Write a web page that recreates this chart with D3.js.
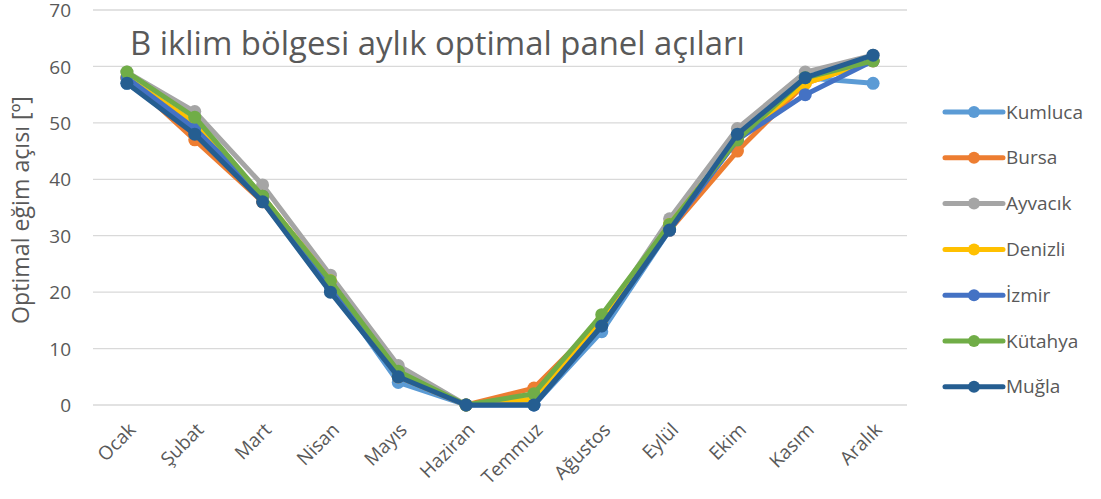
<!DOCTYPE html>
<html>
<head>
<meta charset="utf-8">
<script src="https://cdn.jsdelivr.net/npm/d3@7"></script>
<style>
  body { margin: 0; background: #fff; }
  svg { font-family: "Open Sans", "Noto Sans", sans-serif; }
</style>
</head>
<body>
<div id="chart"></div>
<script>
// months on the x axis
var months = ["Ocak", "Şubat", "Mart", "Nisan", "Mayıs", "Haziran", "Temmuz", "Ağustos", "Eylül", "Ekim", "Kasım", "Aralık"];

var kumluca = [57, 49, 37, 21, 4, 0, 0, 13, 31, 47, 58, 57];
var bursa   = [58, 47, 36, 21, 5, 0, 3, 15, 31, 45, 57, 61];
var ayvacik = [59, 52, 39, 23, 7, 0, 1, 15, 33, 49, 59, 62];
var denizli = [58, 50, 37, 22, 5, 0, 1, 15, 32, 47, 57, 61];
var izmir   = [58, 49, 37, 21, 5, 0, 0, 14, 31, 47, 55, 61];
var kutahya = [59, 51, 37, 22, 6, 0, 2, 16, 32, 47, 58, 61];
var mugla   = [57, 48, 36, 20, 5, 0, 0, 14, 31, 48, 58, 62];

var seriesNames = ["Kumluca", "Bursa", "Ayvacık", "Denizli", "İzmir", "Kütahya", "Muğla"];
var seriesValues = [kumluca, bursa, ayvacik, denizli, izmir, kutahya, mugla];
var seriesColors = ["#5B9BD5", "#ED7D31", "#A5A5A5", "#FFC000", "#4472C4", "#70AD47", "#255E91"];

var yTicks = [0, 10, 20, 30, 40, 50, 60, 70];

var width = 1101, height = 499;
var plotLeft = 93, plotRight = 907, plotTop = 10, plotBottom = 405;
var textColor = "#595959";

var svg = d3.select("#chart").append("svg")
  .attr("width", width)
  .attr("height", height);

var xScale = d3.scaleBand()
  .domain(months)
  .range([plotLeft, plotRight]);

var yScale = d3.scaleLinear()
  .domain([0, 70])
  .range([plotBottom, plotTop]);

// gridlines
svg.append("g")
  .selectAll("line")
  .data(yTicks)
  .enter()
  .append("line")
    .attr("x1", plotLeft)
    .attr("x2", plotRight)
    .attr("y1", d => yScale(d))
    .attr("y2", d => yScale(d))
    .attr("stroke", "#d9d9d9")
    .attr("stroke-width", 1.3);

// y axis
var yAxis = g => g
  .attr("transform", `translate(${plotLeft - 22},0)`)
  .call(d3.axisLeft(yScale).tickValues(yTicks).tickSize(0).tickPadding(0))
  .call(g => g.select(".domain").remove())
  .call(g => g.selectAll("text")
      .attr("fill", textColor)
      .style("font-size", "19px")
      .style("font-family", "'Open Sans', sans-serif")
      .attr("dy", "0.35em"));
svg.append("g").call(yAxis);

// x axis, labels rotated
var xAxis = g => g
  .attr("transform", `translate(0,${plotBottom})`)
  .call(d3.axisBottom(xScale).tickSize(0).tickPadding(0))
  .call(g => g.select(".domain").remove())
  .call(g => g.selectAll("text")
      .attr("fill", textColor)
      .style("font-size", "19px")
      .style("font-family", "'Open Sans', sans-serif")
      .attr("text-anchor", "end")
      .attr("dy", "0")
      .attr("transform", "translate(10,26) rotate(-45)"));
svg.append("g").call(xAxis);

// y axis title
var yTitle = svg.append("text")
  .attr("transform", "translate(29,210) rotate(-90)")
  .attr("text-anchor", "middle")
  .attr("fill", textColor)
  .style("font-size", "20px")
  .text("Optimal eğim açısı [º]");
var yw = yTitle.node().getComputedTextLength();
yTitle.style("font-size", (20 * 228 / yw) + "px");

// chart title
var title = svg.append("text")
  .attr("x", 130)
  .attr("y", 55)
  .attr("fill", textColor)
  .style("font-size", "30px")
  .text("B iklim bölgesi aylık optimal panel açıları");
var tw = title.node().getComputedTextLength();
title.style("font-size", (30 * 615 / tw) + "px");

var line = d3.line()
  .x((d, i) => xScale(months[i]) + xScale.bandwidth() / 2)
  .y(d => yScale(d));

seriesValues.forEach(function(vals, k) {
  var g = svg.append("g");
  g.append("path")
    .datum(vals)
    .attr("fill", "none")
    .attr("stroke", seriesColors[k])
    .attr("stroke-width", 5)
    .attr("stroke-linejoin", "round")
    .attr("d", line);
  g.selectAll("circle")
    .data(vals)
    .enter()
    .append("circle")
      .attr("cx", (d, i) => xScale(months[i]) + xScale.bandwidth() / 2)
      .attr("cy", d => yScale(d))
      .attr("r", 6.5)
      .attr("fill", seriesColors[k]);
});

// legend
var legend = svg.append("g")
  .selectAll("g")
  .data(seriesNames)
  .enter()
  .append("g")
    .attr("transform", (d, i) => `translate(945,${112 + i * 45.8})`);
legend.append("line")
  .attr("x1", 0).attr("x2", 58)
  .attr("stroke", (d, i) => seriesColors[i])
  .attr("stroke-width", 5)
  .attr("stroke-linecap", "round");
legend.append("circle")
  .attr("cx", 29)
  .attr("r", 6)
  .attr("fill", (d, i) => seriesColors[i]);
legend.append("text")
  .attr("x", 61)
  .attr("dy", "0.35em")
  .attr("fill", textColor)
  .style("font-size", "19px")
  .text(d => d);
</script>
</body>
</html>
